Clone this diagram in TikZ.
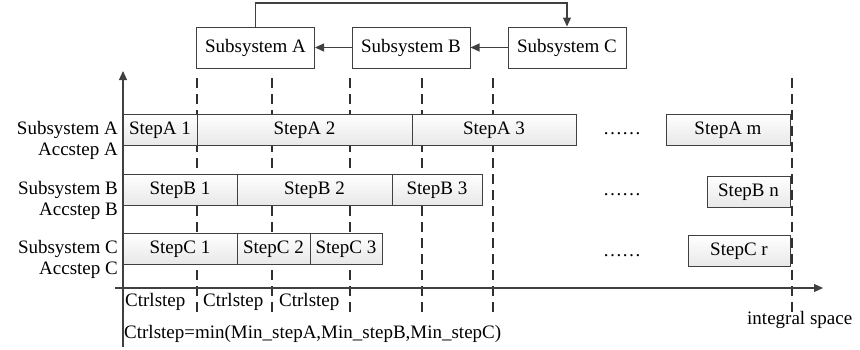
\documentclass[tikz,border=0pt]{standalone}
\usepackage{fontspec}
\setmainfont{Liberation Serif}
\usetikzlibrary{arrows.meta}
\definecolor{ln}{HTML}{404040}
\definecolor{dl}{HTML}{303030}
\begin{document}
\begin{tikzpicture}[x=1pt,y=-1pt,font=\fontsize{19}{22}\selectfont,
  stepbox/.style={draw=ln,line width=0.9pt,top color=white,bottom color=gray!18,inner sep=0pt,minimum height=31pt,text height=13pt,text depth=4pt},
  sysbox/.style={draw=ln,line width=1pt,fill=white,inner sep=0pt,minimum height=41pt,minimum width=118pt,text height=13pt,text depth=4pt},
  dline/.style={draw=dl,line width=1.1pt,dash pattern=on 10pt off 6pt},
  conn/.style={draw=ln,line width=1.2pt,-{Triangle[length=9pt,width=8pt]}},
  lbl/.style={inner sep=0pt,anchor=east,text height=13pt,text depth=4pt},
  txt/.style={inner sep=0pt,text height=13pt,text depth=4pt}]
\useasboundingbox (0,0) rectangle (860,349);
% top subsystems
\node[sysbox] (SA) at (255.5,47.5) {Subsystem A};
\node[sysbox] (SB) at (411,47.5) {Subsystem B};
\node[sysbox] (SC) at (567,47.5) {Subsystem C};
\draw[conn] (SB) -- (SA);
\draw[conn] (SC) -- (SB);
\coordinate (topl) at (255.5,3);
\draw[conn] (SA.north) -- (topl) -| (SC.north);
% dashed lines
\foreach \x/\n in {197/d1,272/d2,350/d3,422/d4,493/d5,792/d6}{
  \coordinate (\n t) at (\x,78);
  \coordinate (\n b) at (\x,312);
  \draw[dline] (\n t) -- (\n b);
}
% axes
\coordinate (yb) at (123,347);
\coordinate (yt) at (123,71);
\coordinate (xl) at (115,288);
\coordinate (xr) at (823,288);
\draw[conn] (yb) -- (yt);
\draw[conn] (xl) -- (xr);
% row A
\node[stepbox,minimum width=74pt] (A1) at (160,129.5) {StepA 1};
\node[stepbox,minimum width=215pt] (A2) at (304.5,129.5) {StepA 2};
\node[stepbox,minimum width=164pt] (A3) at (494,129.5) {StepA 3};
\node[stepbox,minimum width=124pt] (Am) at (728,129.5) {StepA m};
% row B
\node[stepbox,minimum width=114pt] (B1) at (180,189.5) {StepB 1};
\node[stepbox,minimum width=155pt] (B2) at (314.5,189.5) {StepB 2};
\node[stepbox,minimum width=90pt] (B3) at (437,189.5) {StepB 3};
\node[stepbox,minimum width=83pt] (Bn) at (748.5,191.5) {StepB n};
% row C
\node[stepbox,minimum width=114pt] (C1) at (180,248.5) {StepC 1};
\node[stepbox,minimum width=73pt] (C2) at (273.5,248.5) {StepC 2};
\node[stepbox,minimum width=72pt] (C3) at (346,248.5) {StepC 3};
\node[stepbox,minimum width=102pt] (Cr) at (739,251) {StepC r};
% dots
\node[txt] (dA) at (622,130) {……};
\node[txt] (dB) at (622,191) {……};
\node[txt] (dC) at (622,252) {……};
% left labels
\node[lbl] (lSA) at (118,129.5) {Subsystem A};
\node[lbl] (lAA) at (118,151) {Accstep A};
\node[lbl] (lSB) at (118,189.5) {Subsystem B};
\node[lbl] (lAB) at (118,211) {Accstep B};
\node[lbl] (lSC) at (118,248.5) {Subsystem C};
\node[lbl] (lAC) at (118,270) {Accstep C};
% bottom
\node[txt,anchor=west] (c1) at (125,302) {Ctrlstep};
\node[txt,anchor=west] (c2) at (203,302) {Ctrlstep};
\node[txt,anchor=west] (c3) at (279,302) {Ctrlstep};
\node[txt,anchor=west] (cm) at (124,334) {Ctrlstep=min(Min\_stepA,Min\_stepB,Min\_stepC)};
\node[txt,anchor=west] (is) at (747,320) {integral space};
\end{tikzpicture}
\end{document}
